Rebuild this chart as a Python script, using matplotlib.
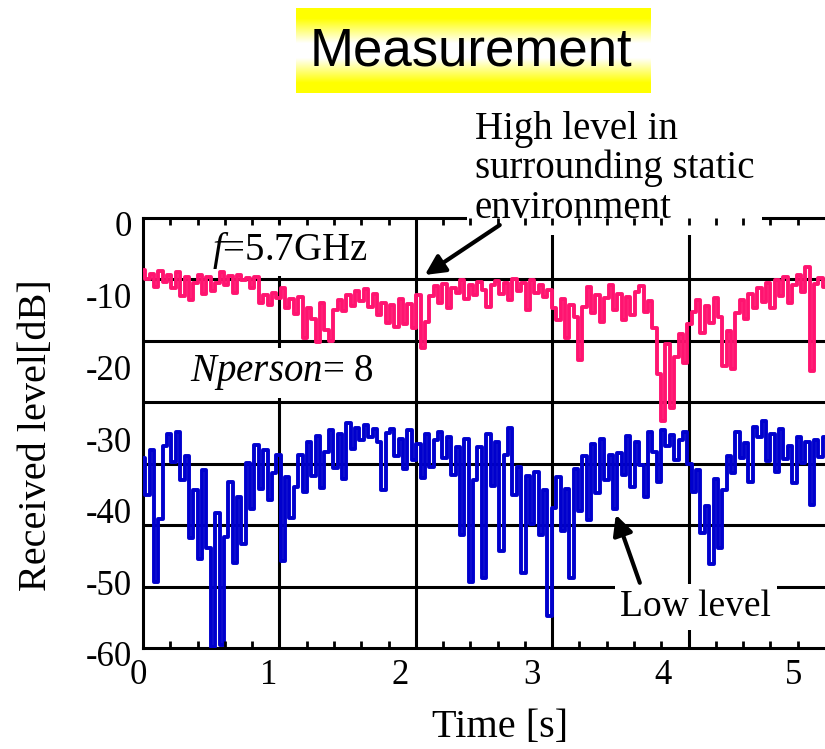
import numpy as np
import matplotlib.pyplot as plt
from matplotlib.transforms import ScaledTranslation

plt.rcParams['font.family'] = 'Liberation Serif'
plt.rcParams['mathtext.fontset'] = 'custom'
plt.rcParams['mathtext.it'] = 'Liberation Serif:italic'
plt.rcParams['mathtext.rm'] = 'Liberation Serif'
plt.rcParams['axes.unicode_minus'] = False

t_end = 5.2

# received level [dB], sampled every 1/30 s from 0 to 5.2 s
high_db = [
    -7.2, -8.5, -7.8, -9.6, -7.4, -8.9, -8.0, -9.8, -7.6,
    -10.9, -8.2, -11.5, -9.0, -7.9, -10.6, -8.3, -10.2, -9.0,
    -7.6, -9.4, -8.1, -10.4, -8.0, -8.6, -8.4, -9.7, -8.2,
    -11.8, -10.7, -12.2, -10.5, -11.1, -9.8, -12.6, -11.3, -13.4,
    -11.0, -16.8, -12.5, -14.1, -17.3, -11.9, -15.6, -17.2, -12.8,
    -11.4, -13.0, -10.8, -12.3, -10.2, -11.6, -9.9, -12.4, -10.6,
    -13.5, -11.9, -14.6, -12.2, -15.2, -11.3, -14.8, -12.0, -15.4,
    -10.7, -18.2, -14.5, -10.9, -9.5, -11.8, -9.2, -12.6, -9.7,
    -10.4, -8.6, -11.3, -9.4, -10.8, -8.9, -10.1, -12.4, -9.3,
    -8.8, -10.6, -9.1, -11.4, -8.5, -10.2, -9.0, -12.9, -8.7,
    -10.5, -9.3, -11.0, -10.1, -12.6, -14.2, -11.3, -16.7, -12.1,
    -13.8, -19.8, -12.4, -9.6, -13.2, -10.8, -14.5, -11.2, -9.3,
    -12.9, -10.6, -14.2, -11.0, -13.6, -10.3, -9.5, -13.1, -11.6,
    -15.3, -21.7, -28.3, -17.6, -26.5, -19.4, -16.2, -20.3, -14.8,
    -13.1, -11.5, -16.0, -12.3, -14.6, -11.2, -13.8, -20.6, -15.7,
    -21.0, -13.2, -11.4, -14.1, -10.6, -12.5, -9.8, -11.7, -9.1,
    -12.6, -8.6, -10.9, -8.2, -11.8, -9.4, -7.9, -10.3, -6.8,
    -21.3, -9.2, -8.4, -9.6,
]

low_db = [
    -33.5, -38.6, -32.4, -50.8, -42.0, -31.8, -30.2, -34.1, -29.8,
    -36.5, -33.2, -44.7, -38.0, -47.6, -35.1, -46.0, -59.8, -41.2,
    -59.6, -44.5, -36.8, -48.2, -38.9, -45.5, -34.2, -40.6, -31.7,
    -37.8, -32.4, -39.4, -35.6, -33.0, -47.9, -36.2, -41.8, -37.5,
    -33.1, -38.2, -31.2, -36.0, -30.4, -37.7, -32.6, -29.6, -34.9,
    -30.1, -36.4, -28.6, -32.2, -29.3, -31.0, -28.9, -30.6, -29.4,
    -31.3, -37.9, -30.0, -29.4, -33.2, -30.8, -35.0, -29.6, -33.8,
    -31.5, -36.3, -30.2, -34.7, -31.0, -29.8, -33.5, -30.6, -35.9,
    -32.0, -44.2, -30.9, -50.8, -36.5, -32.0, -50.2, -30.1, -37.4,
    -31.2, -46.5, -33.0, -29.3, -38.6, -34.8, -49.6, -36.0, -42.7,
    -35.4, -44.3, -38.0, -55.6, -40.5, -36.2, -43.7, -37.8, -50.3,
    -35.0, -40.9, -33.2, -42.1, -31.6, -38.4, -30.8, -36.5, -33.1,
    -40.6, -32.8, -35.9, -30.4, -37.6, -31.2, -34.4, -38.9, -29.8,
    -32.6, -36.8, -29.6, -31.8, -30.3, -33.7, -31.0, -29.8, -34.3,
    -38.2, -35.1, -44.0, -40.2, -48.3, -36.4, -46.1, -38.0, -33.2,
    -35.6, -29.8, -33.5, -31.4, -36.8, -29.1, -30.6, -28.3, -33.9,
    -30.2, -35.4, -29.4, -33.6, -31.8, -37.0, -30.5, -34.2, -31.3,
    -40.1, -31.0, -33.4, -30.6,
]

time = np.linspace(0, t_end, len(high_db))

x_ticks = [0, 1, 2, 3, 4, 5]
y_ticks = [0, -10, -20, -30, -40, -50, -60]

W, H = 825, 749
fig = plt.figure(figsize=(W / 100, H / 100), dpi=100)

# title box with yellow-white-yellow gradient
tax = fig.add_axes([296 / W, 1 - 93 / H, 355 / W, 85 / H])
v = np.linspace(0, 1, 100)
w = np.clip(1.3 - np.abs(2 * v - 1) * 1.7, 0, 1)
grad = np.ones((100, 1, 3))
grad[:, 0, 2] = w
tax.imshow(grad, aspect='auto', extent=[0, 1, 0, 1])
tax.axis('off')
fig.text(471 / W, 1 - 52 / H, 'Measurement', family='Liberation Sans',
         fontsize=38, ha='center', va='center')

ax = fig.add_axes([143 / W, 1 - 648 / H, 682 / W, 430 / H])
ax.plot(time, high_db, color='#ff1470', lw=2.8, zorder=3.5,
        drawstyle='steps-mid')
ax.plot(time, low_db, color='#0000cd', lw=2.8, zorder=3.5,
        drawstyle='steps-mid')

for gx in np.linspace(0, t_end, 6)[1:-1]:
    ax.axvline(gx, color='black', lw=2.2, zorder=2)
for gy in np.linspace(0, -60, 8)[1:-1]:
    ax.axhline(gy, color='black', lw=2.2, zorder=2)

ax.set_xlim(0, t_end)
ax.set_ylim(-60, 0)
ax.set_xticks(x_ticks)
ax.set_yticks(y_ticks)
ax.set_xticks(np.arange(1, 25) * t_end / 25, minor=True)
ax.tick_params(axis='both', which='major', length=0, labelsize=25)
ax.tick_params(axis='x', which='major', pad=8)
ax.tick_params(axis='y', which='major', pad=8)
ax.tick_params(axis='x', which='minor', direction='in', top=True,
               bottom=True, length=5, width=2)
ax.spines['right'].set_visible(False)
for s in ['left', 'bottom', 'top']:
    ax.spines[s].set_linewidth(2.2)
ax.xaxis.set_zorder(5)

box = dict(facecolor='white', edgecolor='none', pad=4)
ax.text(1.12, -4.5, r'$f$=5.7GHz', fontsize=28, ha='center', va='center',
        bbox=box, zorder=3)
ax.text(1.06, -21.6, r'$Nperson$= 8', fontsize=28, ha='center',
        va='center', bbox=box, zorder=3)
ax.text(2.53, 15.0, 'High level in\nsurrounding static\nenvironment',
        fontsize=28, ha='left', va='top', linespacing=1.08,
        bbox=dict(facecolor='white', edgecolor='none', pad=6),
        zorder=3, clip_on=False)
ax.text(4.215, -54.3, 'Low level', fontsize=27, ha='center', va='center',
        bbox=box, zorder=3)

arrow = dict(arrowstyle='-|>', color='black', lw=3, mutation_scale=30,
             shrinkA=0, shrinkB=0)
ax.annotate('', xy=(2.149, -7.95), xytext=(2.72, -0.98),
            arrowprops=arrow, zorder=4, annotation_clip=False)
ax.annotate('', xy=(3.605, -41.4), xytext=(3.788, -50.9),
            arrowprops=arrow, zorder=4)

fig.text(37 / W, 1 - 435 / H, 'Received level[dB]', fontsize=29,
         rotation=90, ha='center', va='center')
fig.text(500 / W, 1 - 727 / H, 'Time [s]', fontsize=29,
         ha='center', va='center')

# nudge tick labels to where the original draws them
for lab in ax.get_xticklabels():
    lab.set_transform(lab.get_transform() +
                      ScaledTranslation(-5 / 100, 0, fig.dpi_scale_trans))
for lab in ax.get_yticklabels():
    lab.set_transform(lab.get_transform() +
                      ScaledTranslation(0, -6 / 100, fig.dpi_scale_trans))

fig.savefig('out.png', dpi=100)
